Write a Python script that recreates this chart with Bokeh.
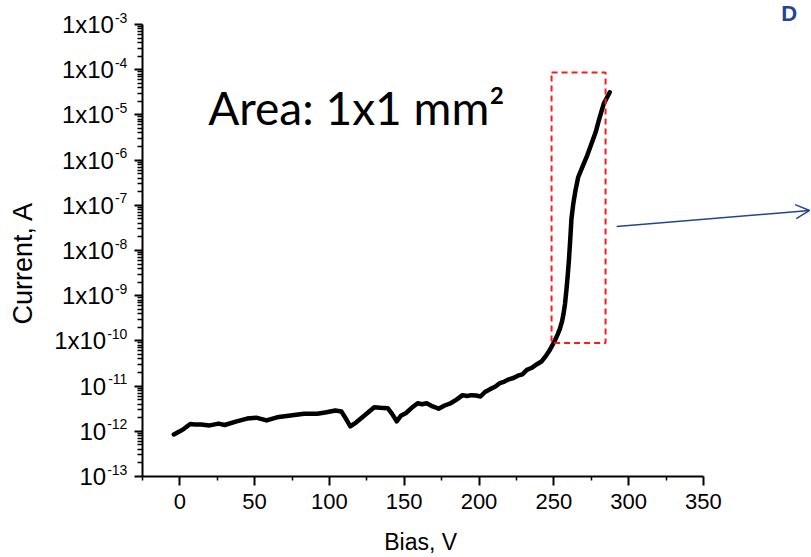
import math
from bokeh.plotting import figure
from bokeh.models import (Range1d, FixedTicker, Label, BoxAnnotation, Arrow, OpenHead,
                          CustomJSTickFormatter)
from bokeh.embed import file_html
from bokeh.resources import INLINE

# ---------------- data ----------------
bias = [-4, 0, 3, 7, 10, 14, 20, 26, 30, 38,
        45, 51, 58, 65, 74, 83, 92, 98, 104, 108,
        111, 114, 118, 121, 126, 130, 134, 139, 142, 145,
        148, 151, 155, 159, 162, 165, 169, 173, 177, 181,
        185, 189, 192, 195, 198, 201, 204, 208, 211, 214,
        217, 220, 223, 226, 229, 232, 235, 239, 242, 245,
        247, 249, 251, 252.5, 254, 255.5, 256.5, 257.5, 258.5, 259.3,
        260.1, 261, 261.8, 263, 264.5, 266.3, 269, 272.3, 275.6, 278,
        280.1, 283.4, 285.5, 287.4]

current = [8.51e-13, 1.0e-12, 1.15e-12, 1.45e-12, 1.41e-12, 1.41e-12, 1.35e-12, 1.48e-12, 1.38e-12, 1.66e-12,
           1.91e-12, 2.0e-12, 1.74e-12, 2.04e-12, 2.24e-12, 2.45e-12, 2.45e-12, 2.63e-12, 2.88e-12, 2.75e-12,
           1.91e-12, 1.29e-12, 1.58e-12, 1.91e-12, 2.63e-12, 3.39e-12, 3.31e-12, 3.24e-12, 2.40e-12, 1.66e-12,
           2.24e-12, 2.51e-12, 3.31e-12, 4.17e-12, 3.98e-12, 4.17e-12, 3.55e-12, 3.16e-12, 3.72e-12, 4.17e-12,
           5.01e-12, 6.31e-12, 6.03e-12, 6.31e-12, 6.17e-12, 5.89e-12, 7.41e-12, 8.71e-12, 9.77e-12, 1.17e-11,
           1.26e-11, 1.41e-11, 1.51e-11, 1.70e-11, 1.82e-11, 2.29e-11, 2.51e-11, 3.09e-11, 3.55e-11, 4.79e-11,
           6.03e-11, 7.94e-11, 1.07e-10, 1.38e-10, 1.82e-10, 2.69e-10, 3.98e-10, 6.61e-10, 1.41e-9, 2.82e-9,
           6.03e-9, 1.78e-8, 5.01e-8, 1.07e-7, 2.14e-7, 4.17e-7, 6.92e-7, 1.26e-6, 2.51e-6, 4.17e-6,
           7.59e-6, 1.78e-5, 2.40e-5, 3.16e-5]
assert len(bias) == len(current)

x_ticks = [0, 50, 100, 150, 200, 250, 300, 350]
x_minor = [-25, 25, 75, 125, 175, 225, 275, 325]
x_bounds = (-25, 350)
y_exponents = [-13, -12, -11, -10, -9, -8, -7, -6, -5, -4, -3]
y_prefix = ["10", "10", "10", "1x10", "1x10", "1x10", "1x10", "1x10", "1x10", "1x10", "1x10"]

x_title = "Bias, V"
y_title = "Current, A"
area_text = "Area: 1x1 mm²"
zoom_box = dict(left=248.5, right=284.6, bottom=9.0e-11, top=8.7e-5)
arrow_from = (292, 3.4e-8)
arrow_to = (421, 7.7e-8)
corner_text = "D"

# ---------------- figure ----------------
FONT = "Liberation Sans"
# pixel scale of the reference: 1.496 px per volt (0 V at x=179.3),
# 45.2 px per decade (1e-13 A at y=476); the frame covers the whole canvas
X0, XS, Y0, YS, W, H = 179.3, 1.496, 476.0, 45.2, 811, 557
x_lo, x_hi = -X0 / XS, (W - X0) / XS
y_lo, y_hi = 10 ** (-13 - (H - Y0) / YS), 10 ** (-13 + Y0 / YS)

p = figure(width=W, height=H, y_axis_type="log",
           x_range=Range1d(x_lo, x_hi), y_range=Range1d(y_lo, y_hi),
           output_backend="svg", toolbar_location=None, min_border=0)
p.outline_line_color = None
p.xgrid.visible = False
p.ygrid.visible = False
p.background_fill_color = "white"
p.border_fill_color = "white"

p.line(bias, current, line_width=4.5, line_color="black", line_join="round", line_cap="round")

# x axis (fixed at the bottom of the y bounds)
xa = p.xaxis[0]
xa.fixed_location = 10.0 ** y_exponents[0]
xa.bounds = x_bounds
xa.ticker = FixedTicker(ticks=x_ticks, minor_ticks=x_minor)
xa.axis_line_width = 2
xa.major_tick_line_width = 2
xa.minor_tick_line_width = 1.5
xa.major_tick_out = 9
xa.major_tick_in = 0
xa.minor_tick_out = 4
xa.minor_tick_in = 0
xa.major_label_text_font = FONT
xa.major_label_text_font_size = "22px"
xa.major_label_text_color = "black"
xa.major_label_standoff = 8

# y axis (fixed at the left end of the x bounds)
ya = p.yaxis[0]
y_major = [10.0 ** e for e in y_exponents]
y_minor = [k * 10.0 ** e for e in y_exponents[:-1] for k in range(2, 10)]
ya.fixed_location = x_bounds[0]
ya.bounds = (y_major[0], y_major[-1])
ya.ticker = FixedTicker(ticks=y_major, minor_ticks=y_minor)
ya.formatter = CustomJSTickFormatter(code="return ''")
ya.axis_line_width = 2
ya.major_tick_line_width = 2
ya.minor_tick_line_width = 1.5
ya.major_tick_out = 8
ya.major_tick_in = 0
ya.minor_tick_out = 5
ya.minor_tick_in = 0

# y tick labels: mantissa + superscript exponent
SUP = 14
for e, pre in zip(y_exponents, y_prefix):
    sup = str(e)
    w = SUP * (0.333 + 0.556 * (len(sup) - 1))
    p.add_layout(Label(x=x_bounds[0], y=10.0 ** e, x_offset=-15, y_offset=7, text=sup,
                       text_align="right", text_baseline="middle",
                       text_font=FONT, text_font_size=f"{SUP}px", text_color="black"))
    p.add_layout(Label(x=x_bounds[0], y=10.0 ** e, x_offset=-16 - w, y_offset=0, text=pre,
                       text_align="right", text_baseline="middle",
                       text_font=FONT, text_font_size="24px", text_color="black"))

# axis titles
p.add_layout(Label(x=161, y=3.6e-15, text=x_title, text_align="center",
                   text_baseline="middle", text_font=FONT, text_font_size="23px",
                   text_color="black"))
p.add_layout(Label(x=-105, y=5.3e-9, text=y_title, angle=math.pi / 2,
                   text_align="center", text_baseline="middle", text_font=FONT,
                   text_font_size="27px", text_color="black"))

# annotation text
p.add_layout(Label(x=19, y=1.45e-5, text=area_text, text_font="Lato",
                   text_font_size="46px", text_color="black",
                   text_align="left", text_baseline="alphabetic"))

# red dashed zoom box
p.add_layout(BoxAnnotation(fill_alpha=0, fill_color=None, line_color="#ff1a1a",
                           line_alpha=1.0, line_width=2, line_dash="6 4", **zoom_box))

# blue arrow
BLUE = "#23458f"
p.add_layout(Arrow(end=OpenHead(size=14, line_color=BLUE, line_width=1.5),
                   x_start=arrow_from[0], y_start=arrow_from[1],
                   x_end=arrow_to[0], y_end=arrow_to[1],
                   line_color=BLUE, line_width=1.5))

# partial heading at the top-right corner
p.add_layout(Label(x=402, y=10 ** -2.491, text=corner_text, text_font=FONT,
                   text_font_style="bold", text_font_size="22px", text_color=BLUE,
                   text_align="left", text_baseline="top"))

open("out.html", "w").write(file_html(p, INLINE))
